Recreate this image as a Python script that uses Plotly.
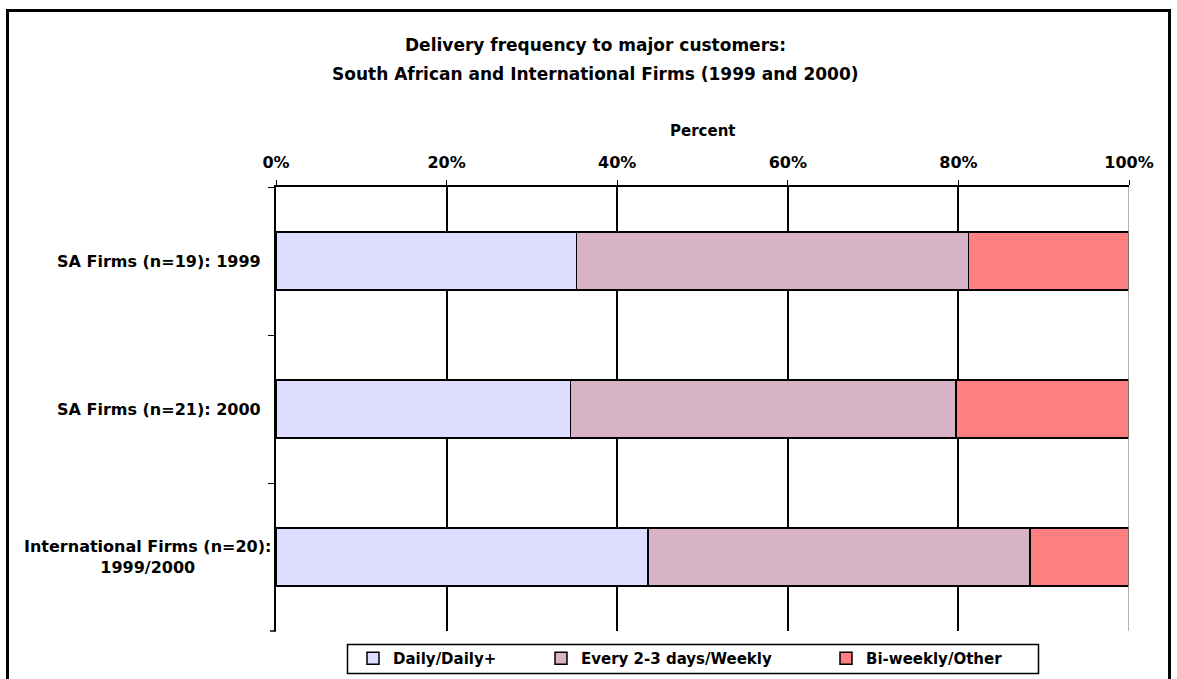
import plotly.graph_objects as go

categories = ["SA Firms (n=19): 1999", "SA Firms (n=21): 2000", "International Firms (n=20):<br>1999/2000"]
series_names = ["Daily/Daily+", "Every 2-3 days/Weekly", "Bi-weekly/Other"]
daily = [35.2, 34.5, 43.6]
weekly = [46.0, 45.2, 44.8]
other = [18.8, 20.3, 11.6]
colors = ["#DDDDFF", "#D8B3C6", "#FF8080"]
x_ticks = [0, 20, 40, 60, 80, 100]
x_ticklabels = ["0%", "20%", "40%", "60%", "80%", "100%"]
title_lines = ["Delivery frequency to major customers:",
               "South African and International Firms (1999 and 2000)"]

W, H = 1177, 679
L, R, T, B = 276, 48, 187, 48
pw, ph = W - L - R, H - T - B

font = "DejaVu Sans, Liberation Sans, Arial, sans-serif"


def px_x(px):
    return (px - L) / pw


def px_y(py):
    return 1 - (py - T) / ph


legend_ids = ["legend", "legend2", "legend3"]
legend_px = [353, 541, 826]

fig = go.Figure()
for name, vals, col, lid in zip(series_names, [daily, weekly, other], colors, legend_ids):
    fig.add_trace(go.Bar(
        y=categories, x=vals, name=name, orientation="h", legend=lid,
        marker=dict(color=col, line=dict(color="black", width=1.5)),
    ))

annotations = []
for line, ly in zip(title_lines, [45, 74]):
    annotations.append(dict(text="<b>" + line + "</b>", xref="paper", yref="paper", x=px_x(595), y=px_y(ly),
                            xanchor="center", yanchor="middle", showarrow=False,
                            font=dict(size=17, color="black", family=font)))
annotations.append(dict(text="<b>Percent</b>", xref="paper", yref="paper", x=0.5, y=px_y(131),
                        xanchor="center", yanchor="middle", showarrow=False,
                        font=dict(size=15, color="black", family=font)))
for c in categories:
    annotations.append(dict(text="<b>" + c + "</b>", xref="paper", yref="y", x=0, y=c,
                            xanchor="right", yanchor="middle",
                            xshift=(-3 if "<br>" in c else -13), showarrow=False,
                            align="center", font=dict(size=16, color="black", family=font)))

legend_common = dict(orientation="h", yanchor="middle", xanchor="left", borderwidth=0,
                     bgcolor="rgba(0,0,0,0)", font=dict(size=15, color="black", family=font, weight="bold"),
                     itemclick=False, itemdoubleclick=False)
legends = {}
for lid, lx in zip(legend_ids, legend_px):
    legends[lid] = dict(legend_common, x=px_x(lx), y=px_y(658.5))

fig.update_layout(
    width=W, height=H,
    margin=dict(l=L, r=R, t=T, b=B, autoexpand=False),
    paper_bgcolor="white", plot_bgcolor="white",
    barmode="stack", bargap=0.61,
    font=dict(family=font, color="black"),
    showlegend=True,
    xaxis=dict(side="top", range=[0, 100], tickvals=x_ticks, ticktext=["<b>%s</b>" % t for t in x_ticklabels],
               showgrid=True, gridcolor="black", gridwidth=1.5, showline=True, linecolor="black",
               linewidth=1.5, ticks="outside", ticklen=5, tickcolor="black", zeroline=False,
               ticklabelstandoff=6,
               tickfont=dict(size=16, color="black", family=font), fixedrange=True),
    yaxis=dict(autorange="reversed", showticklabels=False, showline=True, linecolor="black",
               linewidth=1.5, ticks="outside", tickson="boundaries", ticklen=6, tickcolor="black",
               showgrid=False, zeroline=False),
    annotations=annotations,
    shapes=[
        dict(type="line", xref="x", yref="paper", x0=100, x1=100, y0=0, y1=1,
             line=dict(color="#999999", width=1.5)),
        dict(type="line", xref="paper", yref="paper", x0=px_x(270), x1=0, y0=0, y1=0,
             line=dict(color="black", width=1.5)),
        dict(type="rect", xref="paper", yref="paper", x0=px_x(347.5), x1=px_x(1038.5),
             y0=px_y(673.5), y1=px_y(644.5), line=dict(color="black", width=1.5)),
        dict(type="rect", xref="paper", yref="paper", x0=px_x(7.5), x1=px_x(1169.5),
             y0=px_y(700), y1=px_y(10.5), line=dict(color="black", width=3), layer="above"),
    ],
    **legends,
)

fig.write_html("out.html")
